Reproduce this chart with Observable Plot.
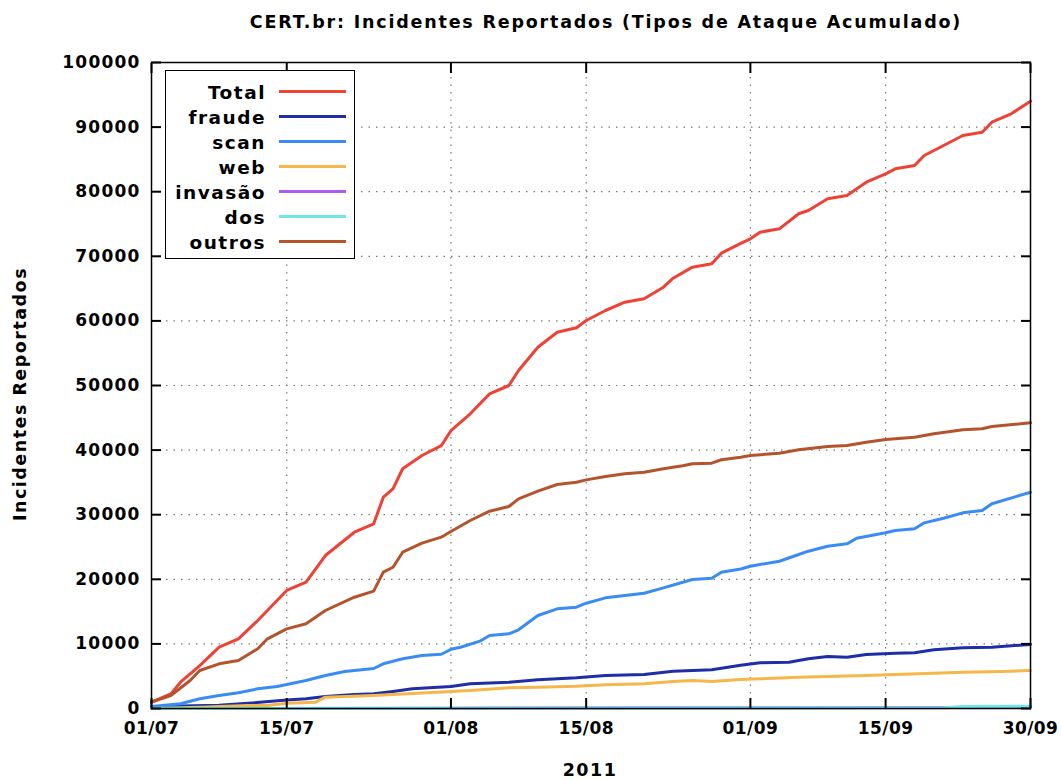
<!DOCTYPE html>
<html>
<head>
<meta charset="utf-8">
<script src="https://cdn.jsdelivr.net/npm/d3@7"></script>
<script src="https://cdn.jsdelivr.net/npm/@observablehq/plot@0.6"></script>
<style>
  html, body { margin: 0; padding: 0; background: #fff; }
  #wrap { position: relative; width: 1061px; height: 780px; font-family: "DejaVu Sans", sans-serif; font-weight: bold; color: #000; }
  #wrap svg { position: absolute; left: 0; top: 0; }
  #wrap svg g[aria-label="y-axis tick label"] text { letter-spacing: 1.2px; }
  #wrap svg g[aria-label="x-axis tick label"] text { letter-spacing: 0.4px; }
  .abs { position: absolute; white-space: nowrap; }
  #title { left: 606px; top: 22px; transform: translate(-50%, -50%); font-size: 17.5px; letter-spacing: 1.8px; }
  #xlabel { left: 590px; top: 770px; transform: translate(-50%, -50%); font-size: 17.5px; letter-spacing: 1.5px; }
  #ylabel { left: 20px; top: 394px; transform: translate(-50%, -50%) rotate(-90deg); font-size: 17.5px; letter-spacing: 1.5px; }
  #legend { left: 165px; top: 70px; width: 188px; height: 187px; border: 1.5px solid #000; background: #fff; }
  .lrow { position: absolute; left: 0; width: 188px; height: 25px; }
  .lrow span { position: absolute; right: 88px; top: 50%; transform: translateY(-50%); font-size: 18.5px; letter-spacing: 1.5px; }
  .lrow i { position: absolute; left: 113px; width: 67px; height: 3px; top: 50%; margin-top: -1.5px; }
</style>
</head>
<body>
<div id="wrap">
  <div id="title" class="abs"></div>
  <div id="xlabel" class="abs"></div>
  <div id="ylabel" class="abs"></div>
</div>
<script>
// ---- Data (day offsets from 01/07/2011, cumulative counts) ----
const titleText = "CERT.br: Incidentes Reportados (Tipos de Ataque Acumulado)";
const xLabelText = "2011";
const yLabelText = "Incidentes Reportados";

const seriesNames  = ["Total", "fraude", "scan", "web", "invasão", "dos", "outros"];
const seriesColors = ["#ee4236", "#1f2ea6", "#3b8cf2", "#f5b74a", "#ad5cf2", "#70e6ea", "#b3542c"];

const totalDays   = [0,2,3,5,7,9,11,13,14,16,18,21,23,24,25,26,28,30,31,33,35,37,38,40,42,44,45,47,49,51,53,54,56,58,59,61,62,63,65,67,68,70,72,74,76,77,79,80,82,84,86,87,89,91];
const totalValues = [1000,2270,4070,6650,9490,10790,13620,16720,18270,19550,23680,27290,28590,32710,34010,37110,39160,40700,43000,45620,48710,50000,52320,55930,58250,58930,60060,61610,62900,63420,65220,66610,68320,68840,70480,72000,72710,73730,74250,76580,77090,78900,79410,81470,82770,83540,84060,85600,87150,88700,89210,90760,92060,94010];

const fraudeDays   = [0,3,7,10,14,16,18,21,23,25,27,31,33,37,40,44,47,51,54,58,61,63,66,68,70,72,74,77,79,81,84,87,91];
const fraudeValues = [100,400,500,800,1300,1500,1860,2170,2270,2630,3050,3400,3820,4070,4440,4750,5110,5260,5770,5990,6700,7070,7170,7690,8050,7940,8360,8560,8620,9090,9400,9490,9910];

const scanDays   = [0,3,5,7,9,11,13,14,16,18,20,23,24,26,28,30,31,32,34,35,37,38,40,42,44,45,47,49,51,53,55,56,58,59,61,62,65,67,68,70,72,73,76,77,79,80,82,84,86,87,91];
const scanValues = [300,730,1500,2010,2430,3050,3410,3720,4330,5110,5730,6190,6920,7690,8200,8400,9160,9490,10420,11300,11560,12180,14400,15430,15680,16300,17130,17490,17850,18680,19550,19970,20170,21100,21600,22030,22800,23840,24350,25120,25490,26360,27200,27550,27820,28740,29460,30290,30650,31690,33480];

const webDays   = [0,5,10,12,14,17,18,23,31,33,37,40,44,47,51,54,56,58,61,63,67,70,74,77,81,84,88,91];
const webValues = [0,200,450,460,800,980,1750,2010,2630,2790,3200,3300,3450,3670,3820,4180,4330,4180,4500,4590,4850,4950,5110,5260,5460,5620,5730,5880];

const invasaoDays   = [0,30,60,91];
const invasaoValues = [0,50,100,150];

const dosDays   = [0,45,82,84,91];
const dosValues = [0,50,100,300,350];

const outrosDays   = [0,2,4,5,7,9,11,12,14,16,18,21,23,24,25,26,28,30,31,33,35,37,38,40,42,44,45,47,49,51,53,55,56,58,59,61,62,65,67,70,72,74,76,79,81,84,86,87,91];
const outrosValues = [1000,2010,4330,5880,6920,7430,9240,10790,12330,13110,15170,17230,18160,21100,21870,24190,25590,26520,27400,29100,30540,31270,32460,33640,34670,35030,35390,35910,36330,36580,37110,37570,37880,37980,38500,38900,39160,39520,40040,40560,40710,41220,41640,42000,42520,43140,43300,43650,44220];

const yTicks = [0,10000,20000,30000,40000,50000,60000,70000,80000,90000,100000];
const xTickDates  = ["2011-07-01","2011-07-15","2011-08-01","2011-08-15","2011-09-01","2011-09-15","2011-09-30"];
const xTickLabels = ["01/07","15/07","01/08","15/08","01/09","15/09","30/09"];

// ---- Build ----
const start = new Date(Date.UTC(2011, 6, 1));
const dayToDate = d => new Date(start.getTime() + d * 86400000);
const seriesDays = [totalDays, fraudeDays, scanDays, webDays, invasaoDays, dosDays, outrosDays];
const seriesVals = [totalValues, fraudeValues, scanValues, webValues, invasaoValues, dosValues, outrosValues];
const seriesData = seriesNames.map((name, i) =>
  seriesDays[i].map((d, j) => ({series: name, date: dayToDate(d), value: seriesVals[i][j]})));

const xTicks = xTickDates.map(s => new Date(s + "T00:00:00Z"));
const fmtX = d => xTickLabels[xTicks.findIndex(t => +t === +d)];
const gridDash = "1.5,6";

const chart = Plot.plot({
  width: 1061,
  height: 780,
  marginLeft: 151,
  marginRight: 31,
  marginTop: 62,
  marginBottom: 72,
  style: {fontFamily: "DejaVu Sans", fontWeight: "bold", fontSize: "17px", background: "transparent", overflow: "visible"},
  x: {type: "utc", domain: [xTicks[0], xTicks[xTicks.length - 1]]},
  y: {domain: [0, 100000]},
  marks: [
    Plot.gridY(yTicks.slice(1, -1), {stroke: "#777", strokeOpacity: 1, strokeWidth: 1.2, strokeDasharray: gridDash}),
    Plot.gridX(xTicks.slice(1, -1), {stroke: "#777", strokeOpacity: 1, strokeWidth: 1.2, strokeDasharray: gridDash}),
    ...seriesData.map((data, i) => Plot.line(data, {x: "date", y: "value", stroke: seriesColors[i], strokeWidth: 3})),
    Plot.frame({stroke: "#000", strokeWidth: 1.5}),
    // tick labels
    Plot.axisY(yTicks, {anchor: "left", tickSize: 0, tickPadding: 11, label: null, tickFormat: d => String(d), fontSize: 17, fontWeight: "bold"}),
    Plot.axisX(xTicks, {anchor: "bottom", tickSize: 0, tickPadding: 13, label: null, tickFormat: fmtX, fontSize: 17, fontWeight: "bold"}),
    // inward ticks (mirrored)
    Plot.axisY(yTicks, {anchor: "left", tickSize: -10, label: null, tickFormat: () => "", strokeWidth: 2}),
    Plot.axisY(yTicks, {anchor: "right", tickSize: -10, label: null, tickFormat: () => "", strokeWidth: 2}),
    Plot.axisX(xTicks, {anchor: "bottom", tickSize: -10, label: null, tickFormat: () => "", strokeWidth: 2}),
    Plot.axisX(xTicks, {anchor: "top", tickSize: -10, label: null, tickFormat: () => "", strokeWidth: 2})
  ]
});

const wrap = document.getElementById("wrap");
wrap.insertBefore(chart, wrap.firstChild);
document.getElementById("title").textContent = titleText;
document.getElementById("xlabel").textContent = xLabelText;
document.getElementById("ylabel").textContent = yLabelText;

// legend
const legend = document.createElement("div");
legend.id = "legend";
legend.className = "abs";
seriesNames.forEach((name, i) => {
  const row = document.createElement("div");
  row.className = "lrow";
  row.style.top = (8 + i * 25) + "px";
  const s = document.createElement("span");
  s.textContent = name;
  const l = document.createElement("i");
  l.style.background = seriesColors[i];
  row.appendChild(s);
  row.appendChild(l);
  legend.appendChild(row);
});
wrap.appendChild(legend);
</script>
</body>
</html>
